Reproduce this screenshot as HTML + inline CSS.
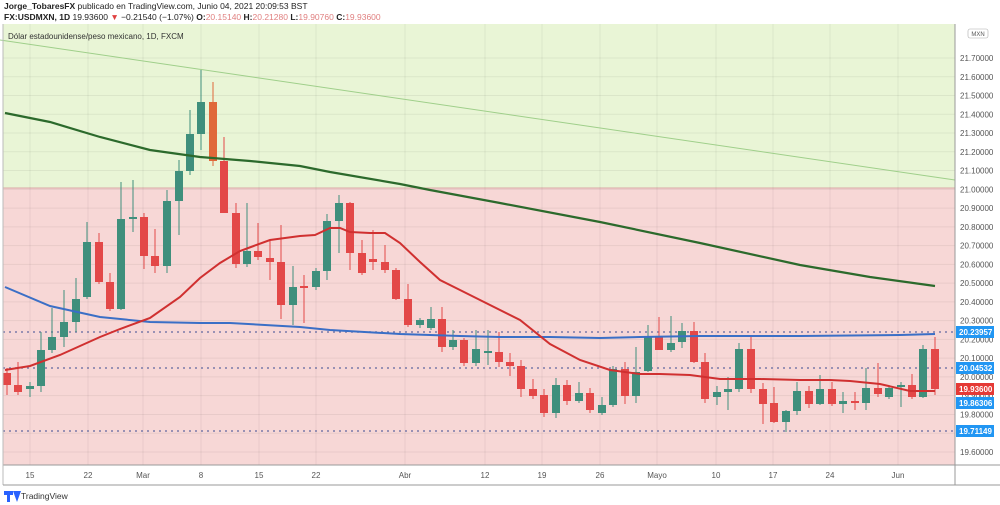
<!DOCTYPE html>
<html><head><meta charset="utf-8"><style>
body{margin:0;width:1000px;height:505px;background:#fff;font-family:"Liberation Sans",sans-serif;overflow:hidden}
svg{position:absolute;left:0;top:0}
</style></head><body>
<svg id="s" width="1000" height="505" xmlns="http://www.w3.org/2000/svg" font-family="Liberation Sans, sans-serif">
<rect x="0" y="0" width="1000" height="505" fill="#fff"/>
<rect x="3" y="24" width="952" height="164" fill="#e9f5d6"/>
<rect x="3" y="188" width="952" height="277" fill="#f7d7d6"/>
<line x1="3" y1="188" x2="955" y2="188" stroke="#d9a9a6" stroke-width="1"/>
<g id="grid" stroke="#000" stroke-opacity="0.06" stroke-width="1"></g>
<line x1="0" y1="40" x2="955" y2="180" stroke="#9fcf8a" stroke-width="1"/>
<g id="dots" stroke-dasharray="2,4" stroke="#7a7aa8" stroke-width="1.5">
<line x1="3" y1="332" x2="955" y2="332"/>
<line x1="3" y1="368" x2="955" y2="368"/>
<line x1="3" y1="431" x2="955" y2="431"/>
</g>
<g id="c"></g>
<polyline fill="none" stroke="#2c6a2c" stroke-width="2.2" points="5,113 50,122 100,137 150,150 200,157 250,161 300,166 330,172 400,184 430,190 500,203 600,222 700,243 800,265 870,277 935,286"/>
<polyline fill="none" stroke="#3b6fc6" stroke-width="2" points="5,287 50,306 100,317 150,322 200,323 230,323 300,327 330,330 400,334 460,336 500,337 550,337 600,338 640,337 700,336 800,336 900,335 935,334"/>
<polyline fill="none" stroke="#d03030" stroke-width="2" points="5,370 30,366 60,355 100,337 120,329 150,318 180,297 200,278 220,263 240,251 270,240 300,236 315,235 330,228 340,228 350,232 370,233 385,233 400,243 420,262 440,280 460,290 480,300 520,320 550,344 580,360 610,370 640,374 660,374 690,375 720,379 760,379 800,380 830,380 850,381 880,384 910,391 935,391"/>
<line x1="955" y1="24" x2="955" y2="485" stroke="#999" stroke-width="1"/>
<line x1="3" y1="465" x2="1000" y2="465" stroke="#999" stroke-width="1"/>
<line x1="3" y1="24" x2="3" y2="485" stroke="#bbb" stroke-width="1"/>
<line x1="3" y1="485" x2="1000" y2="485" stroke="#999" stroke-width="1"/>
<g id="ax" font-size="8" fill="#555"></g>
<g id="tx" font-size="8" fill="#555"></g>
<rect x="3" y="24" width="952" height="0" fill="none"/>
<text x="8" y="39" font-size="8" fill="#333">Dólar estadounidense/peso mexicano, 1D, FXCM</text>
<text x="4" y="9" font-size="8.5" fill="#222"><tspan font-weight="bold">Jorge_TobaresFX</tspan> publicado en TradingView.com, Junio 04, 2021 20:09:53 BST</text>
<text x="4" y="20" font-size="8.5" fill="#222"><tspan font-weight="bold">FX:USDMXN, 1D</tspan> 19.93600 <tspan fill="#e04040">▼</tspan> −0.21540 (−1.07%) <tspan font-weight="bold">O:</tspan><tspan fill="#e08080">20.15140</tspan> <tspan font-weight="bold">H:</tspan><tspan fill="#e08080">20.21280</tspan> <tspan font-weight="bold">L:</tspan><tspan fill="#e08080">19.90760</tspan> <tspan font-weight="bold">C:</tspan><tspan fill="#e08080">19.93600</tspan></text>
<rect x="968" y="29" width="20" height="9" rx="2" fill="#fff" stroke="#aaa" stroke-width="0.6"/>
<text x="978" y="36" font-size="6" fill="#555" text-anchor="middle">MXN</text>
<g id="lab" font-size="8" font-weight="bold" fill="#fff"></g>
<path d="M4 491 h9 v4 h-3 v7 h-3 v-7 h-3z M13 491 l4 11 l4 -11z" fill="#2962ff"/>
<text x="21" y="499" font-size="8.5" fill="#333">TradingView</text>
</svg>
<script>
var NS="http://www.w3.org/2000/svg";
function el(p,t,a,txt){var e=document.createElementNS(NS,t);for(var k in a)e.setAttribute(k,a[k]);if(txt)e.textContent=txt;document.getElementById(p).appendChild(e);return e;}
function Y(p){return 58+(21.7-p)*187.6;}
// grid
for(var i=0;i<=22;i++){var p=19.5+i*0.1;var y=Y(p);if(y>24&&y<465)el("grid","line",{x1:3,x2:955,y1:y,y2:y});}
var dx=[30,88,143,201,259,316,405,485,542,600,657,716,773,830,898];
dx.forEach(function(x){el("grid","line",{x1:x,x2:x,y1:24,y2:465});});
// axis labels
for(var i=0;i<=22;i++){var p=19.6+i*0.1;var y=Y(p);if(y>40&&y<460)el("ax","text",{x:960,y:y+3},p.toFixed(5));}
var dl=["15","22","Mar","8","15","22","Abr","12","19","26","Mayo","10","17","24","Jun"];
dx.forEach(function(x,i){el("tx","text",{x:x,y:478,"text-anchor":"middle"},dl[i]);});
// candles: x, top, bottom, hi, lo, color(g/r/o)
var C=[[7,373,385,368,395,"r"],[18,385,392,362,395,"r"],[30,386,389,382,397,"g"],[41,350,386,332,392,"g"],[52,337,350,308,353,"g"],[64,322,337,290,347,"g"],[76,299,322,278,332,"g"],[87,242,297,222,299,"g"],[99,242,282,233,284,"r"],[110,282,309,273,311,"r"],[121,219,309,182,310,"g"],[133,217,219,180,232,"g"],[144,217,256,213,269,"r"],[155,256,266,229,273,"r"],[167,201,266,190,273,"g"],[179,171,201,160,235,"g"],[190,134,171,110,175,"g"],[201,102,134,70,150,"g"],[213,102,161,82,166,"o"],[224,161,213,137,213,"r"],[236,213,264,203,268,"r"],[247,251,264,203,267,"g"],[258,251,257,223,260,"r"],[270,258,262,240,280,"r"],[281,262,305,225,319,"r"],[293,287,305,266,325,"g"],[304,286,288,275,323,"r"],[316,271,287,268,290,"g"],[327,221,271,214,280,"g"],[339,203,221,195,253,"g"],[350,203,253,202,270,"r"],[362,253,273,240,275,"r"],[373,259,262,230,270,"r"],[385,262,270,245,273,"r"],[396,270,299,268,300,"r"],[408,299,325,284,327,"r"],[420,320,325,318,328,"g"],[431,319,328,307,330,"g"],[442,319,347,307,352,"r"],[453,340,347,330,350,"g"],[464,340,363,338,366,"r"],[476,349,363,330,366,"g"],[488,351,353,330,365,"g"],[499,352,362,332,367,"r"],[510,362,366,353,376,"r"],[521,366,389,360,397,"r"],[533,389,396,379,399,"r"],[544,395,413,389,417,"r"],[556,385,413,378,418,"g"],[567,385,401,380,405,"r"],[579,393,401,382,403,"g"],[590,393,410,388,413,"r"],[602,405,413,397,415,"g"],[613,369,405,366,407,"g"],[625,369,396,362,404,"r"],[636,372,396,347,403,"g"],[648,337,371,325,372,"g"],[659,337,350,317,350,"r"],[671,343,350,316,352,"g"],[682,331,342,323,348,"g"],[694,331,362,322,363,"r"],[705,362,399,353,403,"r"],[717,392,397,386,405,"g"],[728,389,392,377,410,"g"],[739,349,389,343,392,"g"],[751,349,389,337,393,"r"],[763,389,404,383,424,"r"],[774,403,422,387,423,"r"],[786,411,422,410,432,"g"],[797,391,411,382,415,"g"],[809,391,404,386,408,"r"],[820,389,404,375,405,"g"],[832,389,404,382,406,"r"],[843,401,404,392,413,"g"],[855,401,403,392,410,"r"],[866,388,403,368,410,"g"],[878,388,394,363,397,"r"],[889,388,397,385,399,"g"],[901,385,387,382,407,"g"],[912,385,397,374,399,"r"],[923,349,397,345,398,"g"],[935,349,389,337,395,"r"]];
var col={g:"#3f8f7c",r:"#e34848",o:"#e0683a"};
C.forEach(function(c){var f=col[c[5]];el("c","line",{x1:c[0],x2:c[0],y1:c[3],y2:c[4],stroke:f,"stroke-width":1});el("c","rect",{x:c[0]-4,y:c[1],width:8,height:Math.max(1.5,c[2]-c[1]),fill:f});});
// price labels
[[332,"20.23957","#2196f3"],[368,"20.04532","#2196f3"],[389,"19.93600","#e53935"],[403,"19.86306","#2196f3"],[431,"19.71149","#2196f3"]].forEach(function(l){el("lab","rect",{x:956,y:l[0]-6,width:38,height:12,fill:l[2]});el("lab","text",{x:959,y:l[0]+3},l[1]);});
</script>
</body></html>
